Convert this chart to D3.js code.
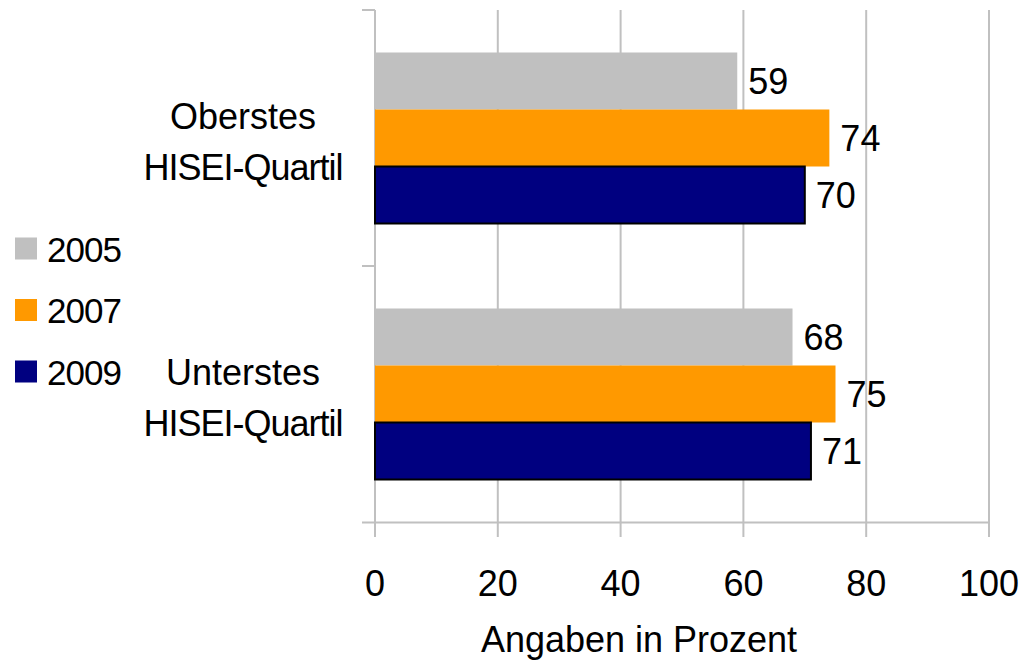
<!DOCTYPE html>
<meta charset="utf-8">
<style>
body { margin: 0; background: #fff; }
svg { display: block; font-family: "Liberation Sans", Arial, sans-serif; }
.grid line { stroke: #c0c0c0; stroke-width: 2px; }
</style>
<body>
<div id="chart"></div>
<script src="https://d3js.org/d3.v7.min.js"></script>
<script>
// data
var categories = ["Oberstes HISEI-Quartil", "Unterstes HISEI-Quartil"];
var categoryLines = [["Oberstes", "HISEI-Quartil"], ["Unterstes", "HISEI-Quartil"]];
var years = ["2005", "2007", "2009"];
var values2005 = [59, 68];
var values2007 = [74, 75];
var values2009 = [70, 71];
var ticks = [0, 20, 40, 60, 80, 100];
var colors = ["#c0c0c0", "#ff9900", "#000080"];

var series = [values2005, values2007, values2009];

var width = 1029, height = 664;
var svg = d3.select("#chart").append("svg")
    .attr("width", width)
    .attr("height", height);

// scales
var x = d3.scaleLinear().domain([0, 100]).range([375, 989]);
var y0 = d3.scaleBand().domain(categories).range([10, 522]);
var y1 = d3.scaleBand().domain(years).range([42.5, y0.bandwidth() - 42.5]);

// vertical grid lines
svg.append("g").attr("class", "grid")
  .selectAll("line")
  .data(ticks)
  .enter().append("line")
    .attr("x1", function(d) { return x(d); })
    .attr("x2", function(d) { return x(d); })
    .attr("y1", 10)
    .attr("y2", 537);

// bottom axis line and left ticks
var ax = svg.append("g").attr("class", "grid");
ax.append("line").attr("x1", 362).attr("x2", x(100)).attr("y1", 522.5).attr("y2", 522.5);
ax.selectAll(".ytick")
  .data([10, 10 + y0.bandwidth()])
  .enter().append("line")
    .attr("x1", 362).attr("x2", x(0))
    .attr("y1", function(d) { return d; })
    .attr("y2", function(d) { return d; });

// bars
var groups = svg.selectAll(".cat")
  .data(categories)
  .enter().append("g")
    .attr("transform", function(d) { return "translate(0," + y0(d) + ")"; });

groups.each(function(c, ci) {
  var g = d3.select(this);
  years.forEach(function(yr, si) {
    var v = series[si][ci];
    g.append("rect")
      .attr("x", x(0))
      .attr("y", y1(yr))
      .attr("width", x(v) - x(0))
      .attr("height", y1.bandwidth())
      .attr("fill", colors[si])
      .attr("stroke", si === 2 ? "#000" : "none")
      .attr("stroke-width", si === 2 ? 2 : 0);
    g.append("text")
      .attr("x", x(v) + 11)
      .attr("y", y1(yr) + y1.bandwidth() / 2 + 13)
      .attr("font-size", 36)
      .text(v);
  });
  // category label
  var mid = y0.bandwidth() / 2;
  g.append("text")
    .attr("x", 243).attr("y", mid - 9)
    .attr("text-anchor", "middle")
    .attr("font-size", 36)
    .text(categoryLines[ci][0]);
  g.append("text")
    .attr("x", 243).attr("y", mid + 42)
    .attr("text-anchor", "middle")
    .attr("font-size", 36)
    .attr("letter-spacing", "-1px")
    .text(categoryLines[ci][1]);
});

// x tick labels
svg.selectAll(".xlabel")
  .data(ticks)
  .enter().append("text")
    .attr("x", function(d) { return x(d); })
    .attr("y", 596)
    .attr("text-anchor", "middle")
    .attr("font-size", 36)
    .text(function(d) { return d; });

// axis title
svg.append("text")
  .attr("x", 639).attr("y", 652)
  .attr("text-anchor", "middle")
  .attr("font-size", 36)
  .text("Angaben in Prozent");

// legend
var legend = svg.selectAll(".legend")
  .data(years)
  .enter().append("g")
    .attr("transform", function(d, i) { return "translate(15," + (248.5 + i * 61.5) + ")"; });
legend.append("rect")
  .attr("x", 0).attr("y", -11)
  .attr("width", 22).attr("height", 22)
  .attr("fill", function(d, i) { return colors[i]; });
legend.append("text")
  .attr("x", 32).attr("y", 13)
  .attr("font-size", 35)
  .attr("letter-spacing", "-1px")
  .text(function(d) { return d; });
</script>
</body>
